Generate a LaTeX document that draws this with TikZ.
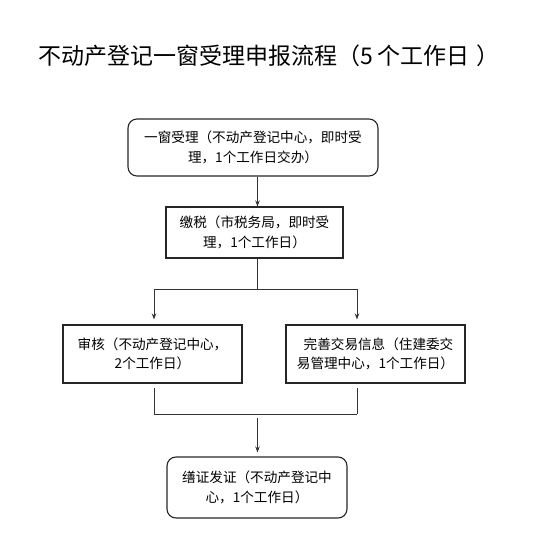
\documentclass[tikz,border=0pt]{standalone}
\usepackage{fontspec}
\newfontfamily\cjk{Noto Sans CJK SC}
\usetikzlibrary{arrows.meta}
\tikzset{
  box/.style={draw=black!85, line width=1.1pt, align=center, inner sep=0pt,
    font=\cjk\fontsize{13.6pt}{19.5pt}\selectfont, text=black},
  rbox/.style={box, rounded corners=9pt},
  conn/.style={draw=black!80, line width=0.9pt},
  arr/.style={conn, -{Stealth[length=6pt,width=4.5pt]}},
}
\begin{document}
\begin{tikzpicture}[x=1pt,y=-1pt]
\useasboundingbox (0,0) rectangle (547,546);
\node[font=\cjk\fontsize{23pt}{27pt}\selectfont] (title) at (269,56) {不动产登记一窗受理申报流程（5 个工作日\hspace{7pt}）};
\node[rbox, minimum width=250pt, minimum height=57pt] (b1) at (253,147.5)
  {一窗受理（不动产登记中心，即时受\\理，1个工作日交办）};
\node[box, minimum width=177pt, minimum height=51pt] (b2) at (254.5,232.5)
  {缴税（市税务局，即时受\\理，1个工作日）};
\node[box, minimum width=179pt, minimum height=58pt] (b3) at (152.5,354)
  {审核（不动产登记中心，\\2个工作日）};
\node[box, minimum width=179pt, minimum height=58pt] (b4) at (375.5,354)
  {\hspace{6pt}完善交易信息（住建委交\\易管理中心，1个工作日）};
\node[rbox, minimum width=180pt, minimum height=61pt] (b5) at (257,487.5)
  {缮证发证（不动产登记中\\心，1个工作日）};
\coordinate (xa) at (257.5,0);
\coordinate (xl) at (154,0);
\coordinate (xr) at (357,0);
\coordinate (s1) at (0,289);
\coordinate (s2) at (0,414);
% box1 -> box2
\draw[arr] (b1.south -| xa) -- (b2.north -| xa);
% split
\draw[conn] (b2.south -| xa) -- (s1 -| xa);
\draw[conn] (s1 -| xl) -- (s1 -| xr);
\draw[arr, shorten >=5pt] (s1 -| xl) -- (b3.north -| xl);
\draw[arr, shorten >=5pt] (s1 -| xr) -- (b4.north -| xr);
% merge
\draw[conn, shorten <=4pt] (b3.south -| xl) -- (s2 -| xl);
\draw[conn, shorten <=4pt] (b4.south -| xr) -- (s2 -| xr);
\draw[conn] (s2 -| xl) -- (s2 -| xr);
\draw[arr, shorten <=4pt, shorten >=4pt] (s2 -| xa) -- (b5.north -| xa);
\end{tikzpicture}
\end{document}
